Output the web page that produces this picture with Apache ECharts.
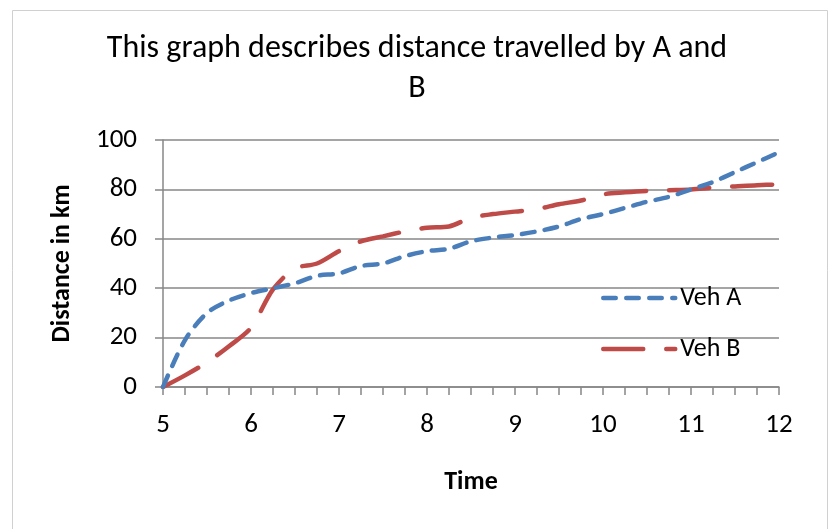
<!DOCTYPE html>
<html>
<head>
<meta charset="utf-8">
<script src="https://cdn.jsdelivr.net/npm/echarts@6/dist/echarts.min.js"></script>
<style>
  html, body { margin: 0; padding: 0; background: #fff; }
  #chart { width: 834px; height: 529px; }
</style>
</head>
<body>
<div id="chart"></div>
<script>
// time in hours, distance in km
const times = [5, 5.25, 5.5, 5.75, 6, 6.25, 6.5, 6.75, 7, 7.25, 7.5, 7.75, 8, 8.25, 8.5, 8.75,
  9, 9.25, 9.5, 9.75, 10, 10.25, 10.5, 10.75, 11, 11.25, 11.5, 11.75, 12];
const vehA = [0, 19, 30, 35, 38, 40, 42, 45, 46, 49, 50, 53, 55, 56, 59, 60.5,
  61.5, 63, 65, 68, 70, 72.5, 75, 77, 80, 83, 87, 91, 95];
const vehB = [0, 4.7, 10, 16.5, 24, 39.5, 48, 50, 55, 59, 61, 63, 64.5, 65, 68.5, 70,
  71, 72, 74, 75.5, 78, 78.8, 79.4, 79.7, 80, 80.7, 81.2, 81.7, 82];
const seriesNames = ['Veh A', 'Veh B'];
const yTicks = [0, 20, 40, 60, 80, 100];

const font = 'Carlito, Calibri, "Liberation Sans", sans-serif';
const gray = '#878787';
const blue = '#4a7ebb';
const red = '#be4b48';
const blueLine = { color: blue, width: 4.5, type: [12.5, 10.5], cap: 'round' };
const redLine = { color: red, width: 4.5, type: [40, 23], cap: 'round' };

const chart = echarts.init(document.getElementById('chart'));

const pairs = (ys) => times.map((t, i) => [t, ys[i]]);

chart.setOption({
  animation: false,
  backgroundColor: '#fff',
  graphic: [{
    type: 'rect',
    shape: { x: 12.5, y: 10.5, width: 815, height: 540 },
    style: { fill: 'none', stroke: '#d0d0d0', lineWidth: 1 },
    silent: true
  }],
  title: {
    text: 'This graph describes distance travelled by A and\nB',
    left: 'center',
    top: 24,
    textStyle: {
      fontFamily: font,
      fontSize: 32,
      fontWeight: 'normal',
      color: '#000',
      lineHeight: 40
    }
  },
  legend: {
    orient: 'vertical',
    left: 596,
    top: 280,
    itemWidth: 72,
    itemHeight: 26,
    itemGap: 25,
    itemStyle: { opacity: 0, borderWidth: 0 },
    textStyle: { fontFamily: font, fontSize: 26, color: '#000' },
    data: [
      { name: seriesNames[0], lineStyle: blueLine },
      { name: seriesNames[1], lineStyle: redLine }
    ]
  },
  grid: { left: 163, right: 55, top: 140, bottom: 142 },
  xAxis: {
    type: 'value',
    min: 5,
    max: 12,
    interval: 1,
    name: 'Time',
    nameLocation: 'middle',
    nameGap: 82,
    nameTextStyle: { fontFamily: font, fontSize: 26, fontWeight: 'bold', color: '#000' },
    axisLine: { lineStyle: { color: gray, width: 1.5 } },
    axisTick: { show: true, length: 8, lineStyle: { color: gray, width: 1.5 } },
    minorTick: { show: true, splitNumber: 4, length: 8, lineStyle: { color: gray, width: 1.5 } },
    splitLine: { show: false },
    axisLabel: { fontFamily: font, fontSize: 27, color: '#000', margin: 25 }
  },
  yAxis: {
    type: 'value',
    min: yTicks[0],
    max: yTicks[yTicks.length - 1],
    interval: 20,
    name: 'Distance in km',
    nameLocation: 'middle',
    nameGap: 88,
    nameRotate: 90,
    nameTextStyle: { fontFamily: font, fontSize: 26, fontWeight: 'bold', color: '#000' },
    axisLine: { show: true, lineStyle: { color: gray, width: 1.5 } },
    axisTick: { show: true, length: 8, lineStyle: { color: gray, width: 1.5 } },
    splitLine: { lineStyle: { color: gray, width: 1.5 } },
    axisLabel: { fontFamily: font, fontSize: 27, color: '#000', margin: 26 }
  },
  series: [
    {
      name: seriesNames[0],
      type: 'line',
      data: pairs(vehA),
      smooth: 0.3,
      showSymbol: false,
      symbol: 'none',
      lineStyle: blueLine,
      itemStyle: { color: blue },
      z: 3
    },
    {
      name: seriesNames[1],
      type: 'line',
      data: pairs(vehB),
      smooth: 0.3,
      showSymbol: false,
      symbol: 'none',
      lineStyle: redLine,
      itemStyle: { color: red },
      z: 2
    }
  ]
});
</script>
</body>
</html>
